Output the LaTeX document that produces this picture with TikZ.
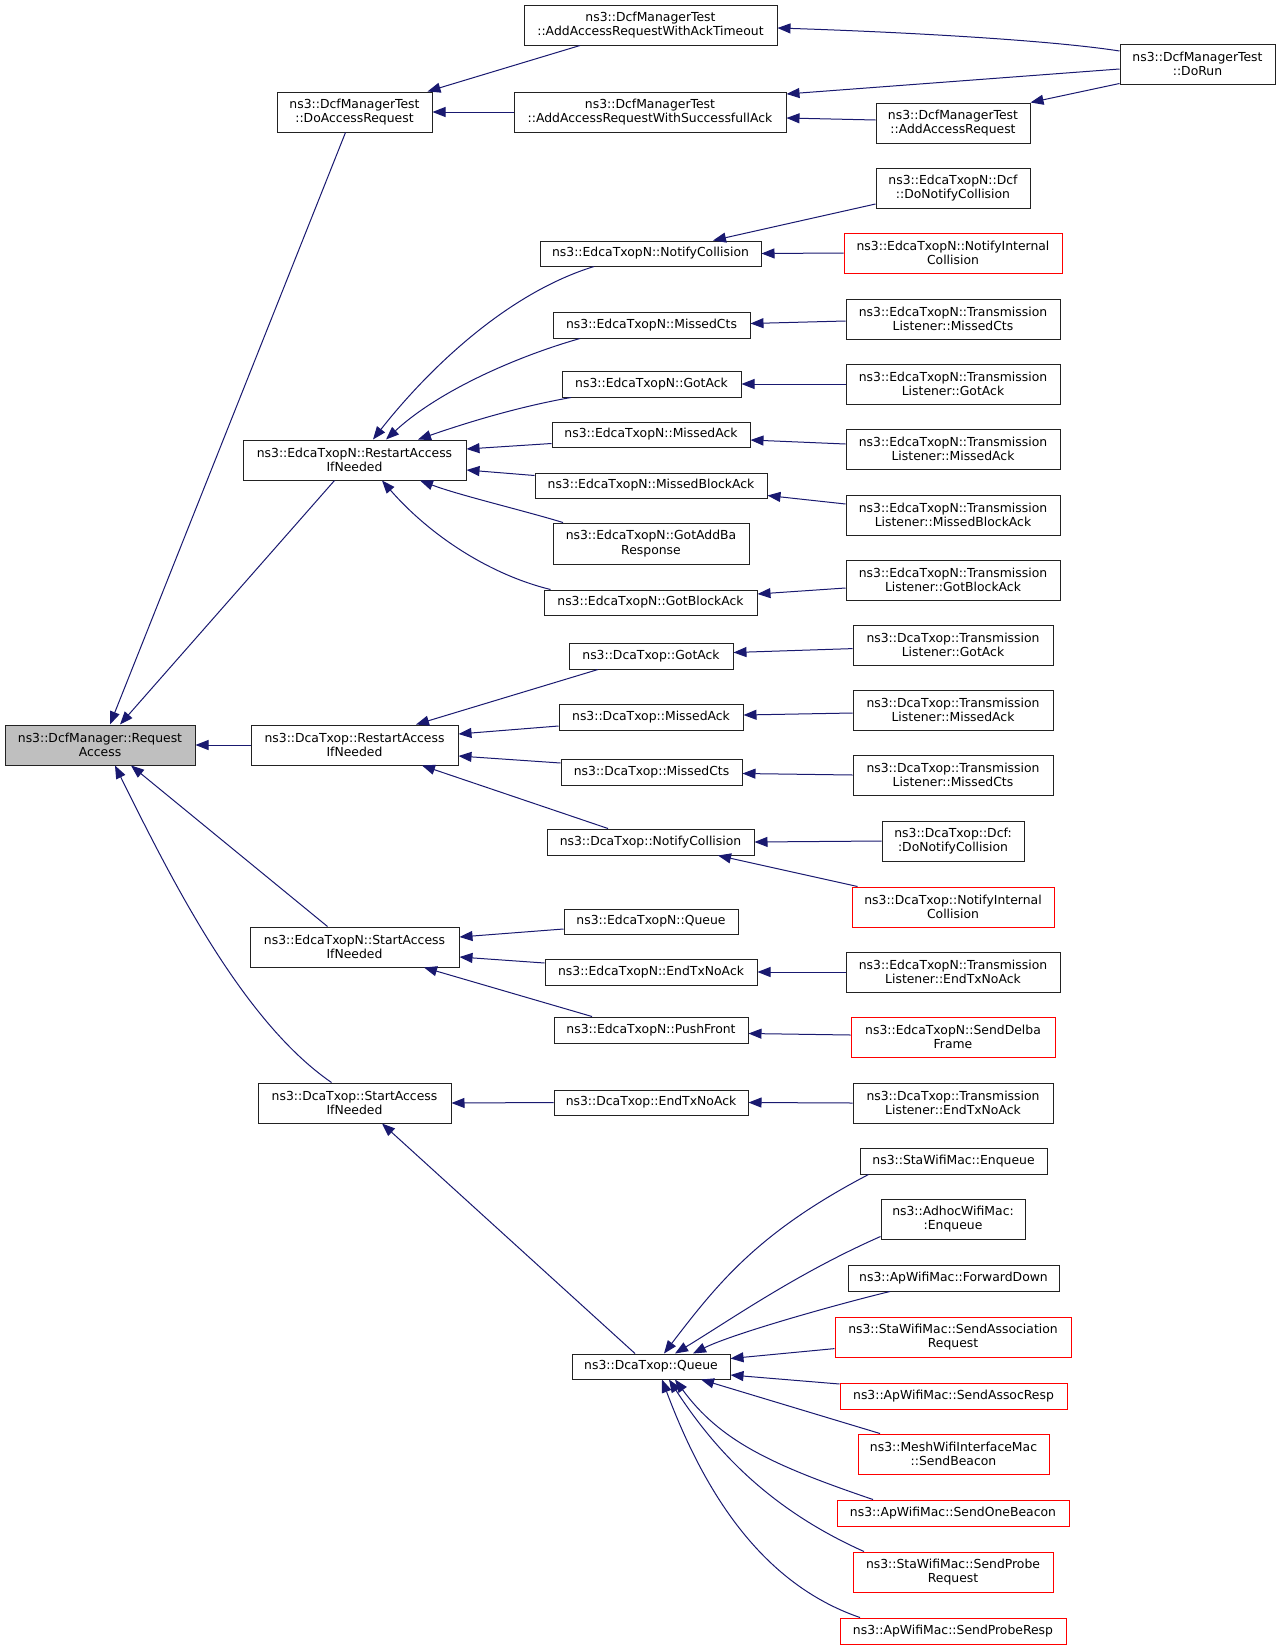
\documentclass[tikz,border=0pt]{standalone}
\usepackage{fontspec}
\setmainfont{DejaVu Sans}
\usetikzlibrary{arrows.meta,calc}
\definecolor{edgec}{HTML}{191970}
\definecolor{mainfill}{HTML}{BFBFBF}
\definecolor{bordc}{HTML}{222222}
\newcommand\nd[7]{\node[#1, minimum width={(#5-#3)*0.75pt}, minimum height={(#6-#4)*0.75pt}] (#2) at ({(#3+#5)/2},{(#4+#6)/2}) {#7};}
\tikzset{
  box/.style={draw=bordc, line width=0.75pt, fill=white, inner sep=0pt, align=center, font=\fontsize{9.3}{11}\selectfont},
  redbox/.style={box, draw=red},
  mainbox/.style={box, fill=mainfill},
  edge/.style={draw=edgec, line width=0.75pt, -{Triangle[length=9.75pt,width=7.5pt]}}
}
\begin{document}
\begin{tikzpicture}[x=0.75pt,y=-0.75pt]
\useasboundingbox[fill=white] (0,0) rectangle (1280,1649);
% column 0
\nd{mainbox}{ra}{5}{725}{195}{765}{ns3::DcfManager::Request\\Access}
% column 1
\nd{box}{dar}{277}{92}{432}{132}{ns3::DcfManagerTest\\::DoAccessRequest}
\nd{box}{era}{243}{440}{466}{480}{ns3::EdcaTxopN::RestartAccess\\IfNeeded}
\nd{box}{dra}{251}{725}{458}{765}{ns3::DcaTxop::RestartAccess\\IfNeeded}
\nd{box}{esa}{250}{927}{459}{967}{ns3::EdcaTxopN::StartAccess\\IfNeeded}
\nd{box}{dsa}{258}{1083}{451}{1123}{ns3::DcaTxop::StartAccess\\IfNeeded}
% column 2
\nd{box}{ato}{524}{5}{777}{45}{ns3::DcfManagerTest\\::AddAccessRequestWithAckTimeout}
\nd{box}{sfa}{514}{92}{786}{132}{ns3::DcfManagerTest\\::AddAccessRequestWithSuccessfullAck}
\nd{box}{enc}{540}{241}{761}{266}{ns3::EdcaTxopN::NotifyCollision}
\nd{box}{emc}{553}{312}{750}{338}{ns3::EdcaTxopN::MissedCts}
\nd{box}{ega}{562}{371}{741}{397}{ns3::EdcaTxopN::GotAck}
\nd{box}{ema}{552}{422}{750}{447}{ns3::EdcaTxopN::MissedAck}
\nd{box}{emb}{535}{473}{767}{498}{ns3::EdcaTxopN::MissedBlockAck}
\nd{box}{egab}{553}{523}{749}{564}{ns3::EdcaTxopN::GotAddBa\\Response}
\nd{box}{egb}{544}{590}{757}{615}{ns3::EdcaTxopN::GotBlockAck}
\nd{box}{dga}{569}{643}{733}{669}{ns3::DcaTxop::GotAck}
\nd{box}{dma}{559}{704}{743}{730}{ns3::DcaTxop::MissedAck}
\nd{box}{dmc}{561}{759}{742}{785}{ns3::DcaTxop::MissedCts}
\nd{box}{dnc}{547}{829}{754}{855}{ns3::DcaTxop::NotifyCollision}
\nd{box}{eq}{564}{909}{738}{934}{ns3::EdcaTxopN::Queue}
\nd{box}{eet}{545}{959}{757}{985}{ns3::EdcaTxopN::EndTxNoAck}
\nd{box}{epf}{554}{1017}{748}{1043}{ns3::EdcaTxopN::PushFront}
\nd{box}{det}{554}{1090}{748}{1115}{ns3::DcaTxop::EndTxNoAck}
\nd{box}{dq}{572}{1354}{730}{1379}{ns3::DcaTxop::Queue}
% column 3
\nd{box}{aar}{876}{103}{1030}{143}{ns3::DcfManagerTest\\::AddAccessRequest}
\nd{box}{edn}{876}{168}{1030}{208}{ns3::EdcaTxopN::Dcf\\::DoNotifyCollision}
\nd{redbox}{eni}{844}{233}{1062}{273}{ns3::EdcaTxopN::NotifyInternal\\Collision}
\nd{box}{etmc}{846}{299}{1060}{339}{ns3::EdcaTxopN::Transmission\\Listener::MissedCts}
\nd{box}{etga}{846}{364}{1060}{404}{ns3::EdcaTxopN::Transmission\\Listener::GotAck}
\nd{box}{etma}{846}{429}{1060}{469}{ns3::EdcaTxopN::Transmission\\Listener::MissedAck}
\nd{box}{etmb}{846}{495}{1060}{535}{ns3::EdcaTxopN::Transmission\\Listener::MissedBlockAck}
\nd{box}{etgb}{846}{560}{1060}{600}{ns3::EdcaTxopN::Transmission\\Listener::GotBlockAck}
\nd{box}{dtga}{853}{625}{1053}{665}{ns3::DcaTxop::Transmission\\Listener::GotAck}
\nd{box}{dtma}{853}{690}{1053}{730}{ns3::DcaTxop::Transmission\\Listener::MissedAck}
\nd{box}{dtmc}{853}{755}{1053}{795}{ns3::DcaTxop::Transmission\\Listener::MissedCts}
\nd{box}{ddn}{882}{821}{1024}{861}{ns3::DcaTxop::Dcf:\\:DoNotifyCollision}
\nd{redbox}{dni}{852}{887}{1054}{927}{ns3::DcaTxop::NotifyInternal\\Collision}
\nd{box}{etet}{846}{952}{1060}{992}{ns3::EdcaTxopN::Transmission\\Listener::EndTxNoAck}
\nd{redbox}{esd}{851}{1017}{1055}{1057}{ns3::EdcaTxopN::SendDelba\\Frame}
\nd{box}{dtet}{853}{1083}{1053}{1123}{ns3::DcaTxop::Transmission\\Listener::EndTxNoAck}
\nd{box}{sen}{860}{1148}{1047}{1174}{ns3::StaWifiMac::Enqueue}
\nd{box}{aen}{881}{1199}{1025}{1239}{ns3::AdhocWifiMac:\\:Enqueue}
\nd{box}{afd}{848}{1265}{1059}{1291}{ns3::ApWifiMac::ForwardDown}
\nd{redbox}{sar}{835}{1317}{1071}{1357}{ns3::StaWifiMac::SendAssociation\\Request}
\nd{redbox}{asr}{840}{1383}{1067}{1409}{ns3::ApWifiMac::SendAssocResp}
\nd{redbox}{msb}{858}{1434}{1049}{1474}{ns3::MeshWifiInterfaceMac\\::SendBeacon}
\nd{redbox}{aob}{837}{1500}{1069}{1526}{ns3::ApWifiMac::SendOneBeacon}
\nd{redbox}{spr}{853}{1552}{1053}{1592}{ns3::StaWifiMac::SendProbe\\Request}
\nd{redbox}{apr}{840}{1618}{1066}{1644}{ns3::ApWifiMac::SendProbeResp}
% column 4
\nd{box}{drun}{1120}{44}{1275}{84}{ns3::DcfManagerTest\\::DoRun}

% edges into RequestAccess
\draw[edge] ($(dar.south)+(-9,0)$) -- ($(ra.north)+(10,0)$);
\draw[edge] ($(era.south)+(-20,0)$) -- ($(ra.north)+(20,0)$);
\draw[edge] (dra.west) -- (ra.east);
\draw[edge] ($(esa.north)+(-27,0)$) -- ($(ra.south)+(31,0)$);
\draw[edge] ($(dsa.north)+(-23,0)$) .. controls +(-90,-62) and +(55,111) .. ($(ra.south)+(15,0)$);
% DoAccessRequest
\draw[edge] ($(ato.south)+(-70.5,0)$) -- ($(dar.north east)+(-5,0)$);
\draw[edge] (sfa.west) -- (dar.east);
\draw[edge] ($(drun.west)+(0,-13)$) .. controls +(-70,-11) and +(123,4) .. ($(ato.east)+(0,3)$);
\draw[edge] ($(drun.west)+(0,5)$) -- ($(sfa.east)+(0,-18)$);
\draw[edge] ($(drun.south west)+(0,-1)$) -- (aar.north east);
\draw[edge] ($(aar.west)+(0,-3)$) -- ($(sfa.east)+(0,6)$);
% EdcaTxopN NotifyCollision etc.
\draw[edge] ($(edn.west)+(0,16)$) -- ($(enc.north)+(62.5,0)$);
\draw[edge] (eni.west) -- (enc.east);
\draw[edge] ($(etmc.west)+(0,2)$) -- ($(emc.east)+(0,-1.5)$);
\draw[edge] (etga.west) -- (ega.east);
\draw[edge] ($(etma.west)+(0,-5)$) -- ($(ema.east)+(0,5.5)$);
\draw[edge] ($(etmb.west)+(0,-11)$) -- ($(emb.south east)+(0,-3)$);
\draw[edge] ($(etgb.west)+(0,8)$) -- ($(egb.east)+(0,-8.5)$);
% into EdcaTxopN RestartAccessIfNeeded
\draw[edge] ($(enc.south)+(-56.5,0)$) .. controls +(-94,29) and +(47,-60) .. ($(era.north)+(18.5,0)$);
\draw[edge] ($(emc.south)+(-71.5,0)$) .. controls +(-60,17) and +(54,-50) .. ($(era.north)+(31.5,0)$);
\draw[edge] ($(ega.south)+(-80.5,0)$) .. controls +(-51,9) and +(52,-18) .. ($(era.north)+(63.5,0)$);
\draw[edge] ($(ema.west)+(0,9)$) -- ($(era.east)+(0,-11)$);
\draw[edge] ($(emb.west)+(0,-10)$) -- ($(era.east)+(0,10)$);
\draw[edge] ($(egab.north)+(-88,0)$) .. controls +(-43,-13) and +(40,15) .. ($(era.south)+(65.5,0)$);
\draw[edge] ($(egb.north west)+(7,0)$) .. controls +(-61,-15) and +(48,55) .. ($(era.south)+(27.5,0)$);
% into DcaTxop RestartAccessIfNeeded
\draw[edge] ($(dga.south)+(-53,0)$) -- ($(dra.north)+(61.5,0)$);
\draw[edge] ($(dma.west)+(0,9)$) -- ($(dra.east)+(0,-11)$);
\draw[edge] ($(dmc.west)+(0,-9)$) -- ($(dra.east)+(0,11)$);
\draw[edge] ($(dnc.north)+(-42.5,0)$) -- ($(dra.south)+(67.5,0)$);
\draw[edge] (ddn.west) -- (dnc.east);
\draw[edge] ($(dni.north west)+(6,0)$) -- ($(dnc.south)+(67.5,0)$);
\draw[edge] ($(dtga.west)+(0,3.6)$) -- ($(dga.east)+(0,-3.5)$);
\draw[edge] ($(dtma.west)+(0,3)$) -- ($(dma.east)+(0,-2)$);
\draw[edge] (dtmc.west) -- ($(dmc.east)+(0,1.5)$);
% into EdcaTxopN StartAccessIfNeeded
\draw[edge] ($(eq.west)+(0,7.5)$) -- ($(esa.east)+(0,-10)$);
\draw[edge] ($(eet.west)+(0,-9)$) -- ($(esa.east)+(0,10)$);
\draw[edge] ($(epf.north)+(-59,0)$) -- ($(esa.south)+(69.5,0)$);
\draw[edge] (etet.west) -- (eet.east);
\draw[edge] ($(esd.west)+(0,-2)$) -- ($(epf.east)+(0,3.5)$);
% into DcaTxop StartAccessIfNeeded
\draw[edge] (det.west) -- (dsa.east);
\draw[edge] (dtet.west) -- (det.east);
\draw[edge] ($(dq.north)+(-16,0)$) -- ($(dsa.south)+(27.5,0)$);
% into DcaTxop::Queue
\draw[edge] ($(sen.south west)+(9,0)$) .. controls +(-109,57) and +(55,-72) .. ($(dq.north)+(13,0)$);
\draw[edge] ($(aen.south west)+(0,-3)$) .. controls +(-84,37) and +(56,-34) .. ($(dq.north)+(24,0)$);
\draw[edge] ($(afd.south)+(-63.5,0)$) .. controls +(-50,12) and +(40,-20) .. ($(dq.north)+(42,0)$);
\draw[edge] ($(sar.west)+(0,11.6)$) -- ($(dq.east)+(0,-8)$);
\draw[edge] ($(asr.west)+(0,-12)$) -- ($(dq.east)+(0,8.5)$);
\draw[edge] ($(msb.north)+(-73.5,0)$) -- ($(dq.south)+(50,0)$);
\draw[edge] ($(aob.north)+(-80,0)$) .. controls +(-103,-35) and +(45,61) .. ($(dq.south)+(24,0)$);
\draw[edge] ($(spr.north)+(-89,0)$) .. controls +(-94,-42) and +(46,71) .. ($(dq.south)+(18,0)$);
\draw[edge] ($(apr.north)+(-93,0)$) .. controls +(-105,-36) and +(38,101) .. ($(dq.south)+(11,0)$);
\end{tikzpicture}
\end{document}
